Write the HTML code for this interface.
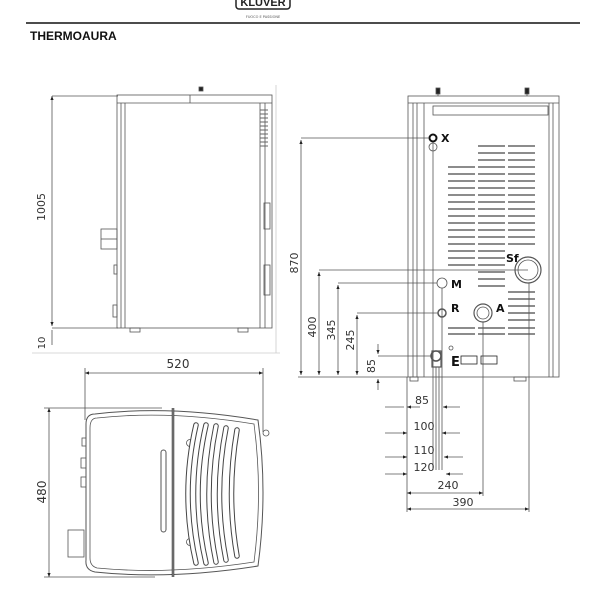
<!DOCTYPE html>
<html><head><meta charset="utf-8"><style>
html,body{margin:0;padding:0;background:#fff;width:608px;height:608px;overflow:hidden}
svg{display:block}
text{font-family:"DejaVu Sans","Liberation Sans",sans-serif;fill:#333}
</style></head><body>
<svg width="608" height="608" viewBox="0 0 608 608" xmlns="http://www.w3.org/2000/svg">
<defs>
<marker id="a" viewBox="0 0 10 10" refX="10" refY="5" markerWidth="6" markerHeight="5" orient="auto-start-reverse"><path d="M0,1 L10,5 L0,9z" fill="#222"/></marker>
</defs>
<!-- header -->
<rect x="236" y="-5" width="54" height="14" rx="3" fill="none" stroke="#222" stroke-width="1.5"/>
<text x="263" y="6" font-size="11" font-weight="bold" text-anchor="middle" style="font-family:'Liberation Sans',sans-serif;fill:#222">KLUVER</text>
<text x="263" y="18" font-size="3.5" text-anchor="middle" style="fill:#555">FUOCO E PASSIONE</text>
<line x1="26" y1="23" x2="580" y2="23" stroke="#111" stroke-width="1.5"/>
<text x="30" y="40" font-size="12" font-weight="bold" style="font-family:'Liberation Sans',sans-serif;fill:#111">THERMOAURA</text>

<g fill="none" stroke="#555" stroke-width="0.8">
<line x1="32" y1="353" x2="280" y2="353" stroke="#ccc"/>
<line x1="276" y1="85" x2="276" y2="353" stroke="#ccc"/>

<!-- SIDE VIEW -->
<line x1="52" y1="96" x2="118" y2="96"/>
<line x1="52" y1="328" x2="118" y2="328"/>
<line x1="52" y1="96" x2="52" y2="326" marker-start="url(#a)" marker-end="url(#a)"/>
<line x1="52" y1="330" x2="52" y2="345"/>
<rect x="117" y="95" width="155" height="233"/>
<line x1="125" y1="103" x2="125" y2="328"/>
<line x1="121" y1="103" x2="121" y2="328"/>
<line x1="260" y1="103" x2="260" y2="328"/>
<line x1="265" y1="103" x2="265" y2="328"/>
<line x1="117" y1="103" x2="272" y2="103"/>
<line x1="190" y1="95" x2="190" y2="103"/>
<rect x="199" y="87" width="4" height="4" fill="#222"/>
<g stroke="#666" stroke-width="1">
<line x1="260" y1="110" x2="268" y2="110"/><line x1="260" y1="114" x2="268" y2="114"/><line x1="260" y1="118" x2="268" y2="118"/><line x1="260" y1="122" x2="268" y2="122"/><line x1="260" y1="126" x2="268" y2="126"/><line x1="260" y1="130" x2="268" y2="130"/><line x1="260" y1="134" x2="268" y2="134"/><line x1="260" y1="138" x2="268" y2="138"/><line x1="260" y1="142" x2="268" y2="142"/><line x1="260" y1="146" x2="268" y2="146"/>
</g>
<rect x="264" y="203" width="6" height="26"/>
<rect x="264" y="265" width="6" height="30"/>
<rect x="101" y="229" width="16" height="20"/>
<line x1="101" y1="239" x2="117" y2="239"/>
<rect x="114" y="265" width="3" height="9"/>
<rect x="113" y="305" width="4" height="12"/>
<rect x="130" y="328" width="10" height="4"/>
<rect x="238" y="328" width="10" height="4"/>

<!-- TOP VIEW -->
<line x1="85" y1="373" x2="263" y2="373" marker-start="url(#a)" marker-end="url(#a)"/>
<line x1="85" y1="368" x2="85" y2="420"/>
<line x1="263" y1="368" x2="263" y2="432"/>
<line x1="44" y1="408" x2="162" y2="408"/>
<line x1="44" y1="577" x2="155" y2="577"/>
<line x1="49" y1="408" x2="49" y2="577" marker-start="url(#a)" marker-end="url(#a)"/>
<path d="M95,414 Q170,405 258,420 Q268,492 258,566 Q170,580 95,572 Q85,570 86,560 L86,424 Q86,414 95,414z" stroke-width="1"/>
<path d="M97,418 Q170,410 254,424 Q263,492 254,562 Q170,575 97,568 Q90,566 90,558 L90,428 Q90,418 97,418z"/>
<line x1="173" y1="408" x2="173" y2="577" stroke="#333" stroke-width="2.5"/>
<line x1="173" y1="408" x2="173" y2="577" stroke="#bbb" stroke-width="0.8"/>
<rect x="161" y="450" width="5" height="82" rx="2.5" stroke-width="1"/>
<circle cx="190" cy="443" r="3.5"/><circle cx="190" cy="542" r="3.5"/>
<circle cx="266" cy="433" r="3"/>
<g stroke="#444" stroke-width="5.5" stroke-linecap="round">
<path d="M196,425 Q180,494 196,563"/><path d="M206,425 Q190,494 206,563"/><path d="M216,426 Q202,494 216,562"/><path d="M226,428 Q213,494 226,560"/><path d="M237,430 Q226,494 237,556"/>
</g>
<g stroke="#fff" stroke-width="3.5" stroke-linecap="round">
<path d="M196,425 Q180,494 196,563"/><path d="M206,425 Q190,494 206,563"/><path d="M216,426 Q202,494 216,562"/><path d="M226,428 Q213,494 226,560"/><path d="M237,430 Q226,494 237,556"/>
</g>
<rect x="82" y="438" width="4" height="8"/>
<rect x="81" y="458" width="5" height="10"/>
<rect x="81" y="477" width="5" height="10"/>
<rect x="68" y="530" width="16" height="27"/>

<!-- FRONT VIEW -->
<rect x="408" y="96" width="151" height="281"/>
<line x1="408" y1="103" x2="559" y2="103"/>
<line x1="413" y1="103" x2="413" y2="377"/>
<line x1="417" y1="103" x2="417" y2="377"/>
<line x1="424" y1="103" x2="424" y2="377"/>
<line x1="553" y1="103" x2="553" y2="377"/>
<line x1="549" y1="103" x2="549" y2="377"/>
<rect x="433" y="106" width="115" height="9"/>
<rect x="436" y="88" width="4" height="6" fill="#222"/><rect x="525" y="88" width="4" height="6" fill="#222"/>
<line x1="438" y1="94" x2="438" y2="96"/><line x1="527" y1="94" x2="527" y2="96"/>
<rect x="410" y="377" width="8" height="4"/><rect x="514" y="377" width="12" height="4"/>
<g stroke="#666" stroke-width="1.4">
<path d="M478,146h27M508,146h27M478,153h27M508,153h27M478,160h27M508,160h27"/>
<path d="M448,167h27M478,167h27M508,167h27M448,174h27M478,174h27M508,174h27M448,181h27M478,181h27M508,181h27M448,188h27M478,188h27M508,188h27M448,195h27M478,195h27M508,195h27M448,202h27M478,202h27M508,202h27M448,209h27M478,209h27M508,209h27M448,216h27M478,216h27M508,216h27M448,223h27M478,223h27M508,223h27M448,230h27M478,230h27M508,230h27M448,237h27M478,237h27M508,237h27M448,244h27M478,244h27M508,244h27M448,251h27M478,251h27M448,258h27M478,258h27M448,265h27M478,265h27"/>
<path d="M478,272h27M478,279h27M478,286h27M508,292h27M508,299h27M508,306h27M508,313h27M508,320h27M448,328h27M478,328h27M508,328h27M448,334h27M478,334h27M508,334h27"/>
</g>
<circle cx="528" cy="270" r="13" stroke-width="1.2"/><circle cx="528" cy="270" r="10"/>
<circle cx="433" cy="138" r="3.5" stroke="#111" stroke-width="2"/>
<circle cx="433" cy="147" r="4"/>
<line x1="433" y1="143" x2="433" y2="470"/>
<circle cx="442" cy="283" r="5"/>
<line x1="442" y1="288" x2="442" y2="470"/>
<circle cx="442" cy="313" r="4" stroke-width="1.5"/>
<circle cx="483" cy="313" r="9" stroke-width="1.2"/><circle cx="483" cy="313" r="6"/>
<circle cx="436" cy="356" r="5" stroke-width="1.5"/>
<rect x="432" y="351" width="9" height="16" stroke-width="1.2"/>
<circle cx="451" cy="348" r="2"/>
<rect x="461" y="356" width="16" height="8" stroke="#222"/><rect x="481" y="356" width="16" height="8" stroke="#222"/>
<!-- front dims -->
<line x1="301" y1="138" x2="429" y2="138"/>
<line x1="301" y1="140" x2="301" y2="375" marker-start="url(#a)" marker-end="url(#a)"/>
<line x1="319" y1="270" x2="528" y2="270"/>
<line x1="319" y1="272" x2="319" y2="375" marker-start="url(#a)" marker-end="url(#a)"/>
<line x1="338" y1="283" x2="437" y2="283"/>
<line x1="338" y1="285" x2="338" y2="375" marker-start="url(#a)" marker-end="url(#a)"/>
<line x1="357" y1="313" x2="438" y2="313"/>
<line x1="357" y1="315" x2="357" y2="375" marker-start="url(#a)" marker-end="url(#a)"/>
<line x1="378" y1="356" x2="432" y2="356"/>
<line x1="378" y1="344" x2="378" y2="354" marker-end="url(#a)"/>
<line x1="378" y1="390" x2="378" y2="379" marker-end="url(#a)"/>
<line x1="298" y1="377" x2="408" y2="377"/>
<!-- bottom dims -->
<line x1="407" y1="377" x2="407" y2="512"/>
<line x1="436" y1="367" x2="436" y2="470"/><line x1="439" y1="367" x2="439" y2="470"/>
<line x1="483" y1="322" x2="483" y2="496"/>
<line x1="529" y1="283" x2="529" y2="512"/>
<line x1="385" y1="407" x2="404" y2="407"/><line x1="460" y1="407" x2="443" y2="407" marker-end="url(#a)"/><line x1="407" y1="407" x2="420" y2="407" marker-start="url(#a)"/>
<line x1="385" y1="433" x2="407" y2="433" marker-end="url(#a)"/><line x1="460" y1="433" x2="442" y2="433" marker-end="url(#a)"/>
<line x1="385" y1="457" x2="407" y2="457" marker-end="url(#a)"/><line x1="463" y1="457" x2="444" y2="457" marker-end="url(#a)"/>
<line x1="385" y1="474" x2="407" y2="474" marker-end="url(#a)"/><line x1="463" y1="474" x2="446" y2="474" marker-end="url(#a)"/>
<line x1="407" y1="493" x2="483" y2="493" marker-start="url(#a)" marker-end="url(#a)"/>
<line x1="407" y1="509" x2="529" y2="509" marker-start="url(#a)" marker-end="url(#a)"/>
</g>
<!-- labels -->
<g font-size="11">
<text transform="translate(45,207) rotate(-90)" text-anchor="middle">1005</text>
<text transform="translate(45,343) rotate(-90)" text-anchor="middle" font-size="10">10</text>
<text x="178" y="368" text-anchor="middle" font-size="12">520</text>
<text transform="translate(46,492) rotate(-90)" text-anchor="middle" font-size="12">480</text>
<text transform="translate(298,263) rotate(-90)" text-anchor="middle">870</text>
<text transform="translate(316,327) rotate(-90)" text-anchor="middle">400</text>
<text transform="translate(335,330) rotate(-90)" text-anchor="middle">345</text>
<text transform="translate(354,340) rotate(-90)" text-anchor="middle">245</text>
<text transform="translate(375,366) rotate(-90)" text-anchor="middle">85</text>
<text x="422" y="404" text-anchor="middle">85</text>
<text x="424" y="430" text-anchor="middle">100</text>
<text x="424" y="454" text-anchor="middle">110</text>
<text x="424" y="471" text-anchor="middle">120</text>
<text x="448" y="489" text-anchor="middle">240</text>
<text x="463" y="506" text-anchor="middle">390</text>
</g>
<g font-size="11" font-weight="bold" style="font-family:'Liberation Sans',sans-serif">
<text x="441" y="142" style="fill:#111">X</text>
<text x="506" y="262" style="fill:#111">Sf</text>
<text x="451" y="288" style="fill:#111">M</text>
<text x="451" y="312" style="fill:#111">R</text>
<text x="496" y="312" style="fill:#111">A</text>
<text x="451" y="366" font-size="13" style="fill:#111">E</text>
</g>
</svg>
</body></html>
